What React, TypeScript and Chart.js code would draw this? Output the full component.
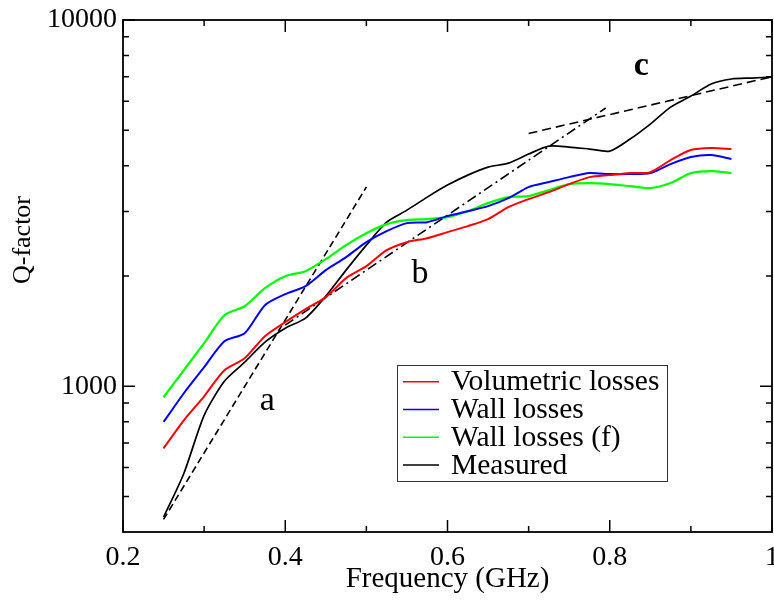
import React, { useEffect, useRef } from "react";
import { Chart, registerables } from "chart.js";

Chart.register(...registerables);

// ---- data ----
const freqs = [
  0.25, 0.275, 0.3, 0.325, 0.35, 0.375, 0.4, 0.425, 0.45, 0.475, 0.5, 0.525, 0.55, 0.575, 0.6,
  0.625, 0.65, 0.675, 0.7, 0.725, 0.75, 0.775, 0.8, 0.825, 0.85, 0.875, 0.9, 0.925, 0.95,
];
const volumetricLosses = [
  677, 807, 939, 1106, 1193, 1370, 1496, 1623, 1751, 1973, 2128, 2353, 2474, 2537, 2635,
  2736, 2860, 3083, 3243, 3389, 3564, 3724, 3771, 3819, 3843, 4145, 4415, 4471, 4443,
];
const wallLosses = [
  799, 957, 1127, 1327, 1396, 1665, 1784, 1876, 2075, 2251, 2474, 2652, 2789, 2806, 2914,
  3006, 3103, 3263, 3498, 3610, 3724, 3819, 3795, 3795, 3819, 4042, 4224, 4277, 4171,
];
const wallLossesF = [
  933, 1106, 1311, 1563, 1654, 1853, 1998, 2062, 2223, 2428, 2618, 2771, 2842, 2860, 2895,
  3006, 3162, 3284, 3305, 3432, 3564, 3587, 3564, 3519, 3475, 3587, 3819, 3867, 3819,
];
const measuredFreqs = [
  0.25, 0.275, 0.3, 0.325, 0.35, 0.375, 0.4, 0.425, 0.45, 0.475, 0.5, 0.525, 0.55, 0.575, 0.6,
  0.625, 0.65, 0.675, 0.7, 0.725, 0.75, 0.775, 0.8, 0.825, 0.85, 0.875, 0.9, 0.925, 0.95,
  0.975, 1.0,
];
const measured = [
  439, 578, 833, 1032, 1163, 1319, 1440, 1534, 1762, 2075, 2428, 2806, 3026, 3284, 3542,
  3771, 3966, 4067, 4305, 4526, 4498, 4443, 4387, 4731, 5199, 5784, 6198, 6686, 6900,
  6943, 6988,
];
const fitAFreqs = [0.25, 0.5];
const fitA = [433, 3500];
const fitBFreqs = [0.4, 0.795];
const fitB = [1469, 5750];
const fitCFreqs = [0.7, 1.0];
const fitC = [4900, 7000];

const xMajorTicks = [0.2, 0.4, 0.6, 0.8, 1];
const xMinorTicks = [0.3, 0.5, 0.7, 0.9];
const yMajorTicks = [1000, 10000];
const yMinorTicks = [500, 600, 700, 800, 900, 2000, 3000, 4000, 5000, 6000, 7000, 8000, 9000];

const annotationTexts = ["a", "b", "c"];
const annotationFreqs = [0.378, 0.566, 0.839];
const annotationQ = [860, 1911, 7074];

const legendLabels = ["Volumetric losses", "Wall losses", "Wall losses (f)", "Measured"];
const legendColors = ["#ff0000", "#0000ff", "#00ff00", "#000000"];

const FONT = "'Liberation Serif', 'Times New Roman', serif";

const pts = (xs: number[], ys: number[]) => xs.map((x, i) => ({ x, y: ys[i] }));

const gracePlugin = {
  id: "graceFrame",
  afterDraw(chart: any) {
    const { ctx, chartArea: a, scales } = chart;
    const xs = scales.x;
    const ys = scales.y;
    ctx.save();
    ctx.strokeStyle = "#000";
    ctx.lineWidth = 1.5;
    const seg = (x1: number, y1: number, x2: number, y2: number) => {
      ctx.beginPath();
      ctx.moveTo(x1, y1);
      ctx.lineTo(x2, y2);
      ctx.stroke();
    };
    const xt = (v: number, len: number) => {
      const p = xs.getPixelForValue(v);
      seg(p, a.bottom, p, a.bottom - len);
      seg(p, a.top, p, a.top + len);
    };
    const yt = (v: number, len: number) => {
      const p = ys.getPixelForValue(v);
      seg(a.left, p, a.left + len, p);
      seg(a.right, p, a.right - len, p);
    };
    xMajorTicks.forEach((v) => xt(v, 12));
    xMinorTicks.forEach((v) => xt(v, 6));
    yMajorTicks.forEach((v) => yt(v, 12));
    yMinorTicks.forEach((v) => yt(v, 6));
    ctx.lineWidth = 1.8;
    ctx.strokeRect(a.left, a.top, a.right - a.left, a.bottom - a.top);

    // annotations
    ctx.fillStyle = "#000";
    ctx.textAlign = "center";
    ctx.textBaseline = "alphabetic";
    annotationTexts.forEach((t, i) => {
      ctx.font = `${i === 2 ? "bold " : ""}34px ${FONT}`;
      ctx.fillText(t, xs.getPixelForValue(annotationFreqs[i]), ys.getPixelForValue(annotationQ[i]));
    });

    // y-axis title
    ctx.save();
    ctx.translate(23, 240);
    ctx.rotate(-Math.PI / 2);
    ctx.font = `26px ${FONT}`;
    ctx.textAlign = "center";
    ctx.textBaseline = "middle";
    ctx.fillText("Q-factor", 0, 0);
    ctx.restore();

    // legend
    const lx = a.left + 274;
    const ly = a.top + 345;
    const lw = 270;
    const lh = 116;
    ctx.fillStyle = "#fff";
    ctx.fillRect(lx, ly, lw, lh);
    ctx.strokeStyle = "#333";
    ctx.lineWidth = 1;
    ctx.strokeRect(lx + 0.5, ly + 0.5, lw, lh);
    ctx.font = `29.5px ${FONT}`;
    ctx.textAlign = "left";
    ctx.textBaseline = "middle";
    legendLabels.forEach((lab, i) => {
      const cy = ly + 16.7 + i * 27.8;
      ctx.strokeStyle = legendColors[i];
      ctx.lineWidth = 1.5;
      seg(lx + 6, cy, lx + 42, cy);
      ctx.fillStyle = "#000";
      ctx.fillText(lab, lx + 54, cy + 1);
    });
    ctx.restore();
  },
};

export default function App() {
  const ref = useRef<HTMLCanvasElement | null>(null);
  useEffect(() => {
    if (!ref.current) return;
    const chart = new Chart(ref.current, {
      type: "line",
      data: {
        datasets: [
          { label: "Volumetric losses", data: pts(freqs, volumetricLosses), borderColor: "#ff0000", borderWidth: 2 },
          { label: "Wall losses", data: pts(freqs, wallLosses), borderColor: "#0000ff", borderWidth: 2 },
          { label: "Wall losses (f)", data: pts(freqs, wallLossesF), borderColor: "#00ff00", borderWidth: 2.2 },
          { label: "Measured", data: pts(measuredFreqs, measured), borderColor: "#000000", borderWidth: 1.7 },
          { label: "fit a", data: pts(fitAFreqs, fitA), borderColor: "#000", borderWidth: 1.6, borderDash: [7, 4] },
          { label: "fit b", data: pts(fitBFreqs, fitB), borderColor: "#000", borderWidth: 1.6, borderDash: [10, 4, 2, 4] },
          { label: "fit c", data: pts(fitCFreqs, fitC), borderColor: "#000", borderWidth: 1.6, borderDash: [9, 5] },
        ] as any,
      },
      options: {
        animation: false,
        responsive: false,
        devicePixelRatio: 1,
        parsing: true,
        elements: { point: { radius: 0 }, line: { tension: 0.25, fill: false } },
        layout: { autoPadding: false, padding: { left: 0, right: 2, top: 20, bottom: 0 } },
        plugins: { legend: { display: false }, tooltip: { enabled: false }, title: { display: false } },
        scales: {
          x: {
            type: "linear",
            min: 0.2,
            max: 1,
            grid: { display: false, drawTicks: false },
            border: { display: false },
            afterBuildTicks: (s: any) => {
              s.ticks = xMajorTicks.map((v) => ({ value: v }));
            },
            afterFit: (s: any) => {
              s.height = 72;
              s.paddingLeft = 0;
              s.paddingRight = 0;
            },
            ticks: {
              autoSkip: false,
              maxRotation: 0,
              padding: 9,
              color: "#000",
              font: { family: FONT, size: 28 },
              callback: (v: any) => String(Math.round(Number(v) * 10) / 10),
            },
            title: {
              display: true,
              text: "Frequency (GHz)",
              color: "#000",
              font: { family: FONT, size: 29 },
              padding: { top: 0, bottom: 7 },
            },
          },
          y: {
            type: "logarithmic",
            min: 400,
            max: 10000,
            grid: { display: false, drawTicks: false },
            border: { display: false },
            afterBuildTicks: (s: any) => {
              s.ticks = yMajorTicks.map((v) => ({ value: v }));
            },
            afterFit: (s: any) => {
              s.width = 123;
              s.paddingTop = 0;
              s.paddingBottom = 0;
            },
            ticks: {
              autoSkip: false,
              padding: 6,
              color: "#000",
              font: { family: FONT, size: 28 },
              callback: (v: any) => String(v),
            },
          },
        },
      } as any,
      plugins: [gracePlugin],
    });
    return () => chart.destroy();
  }, []);
  return (
    <div style={{ position: "absolute", left: 0, top: 0, width: 774, height: 604, background: "#fff" }}>
      <canvas ref={ref} width={774} height={604} style={{ display: "block" }} />
    </div>
  );
}
